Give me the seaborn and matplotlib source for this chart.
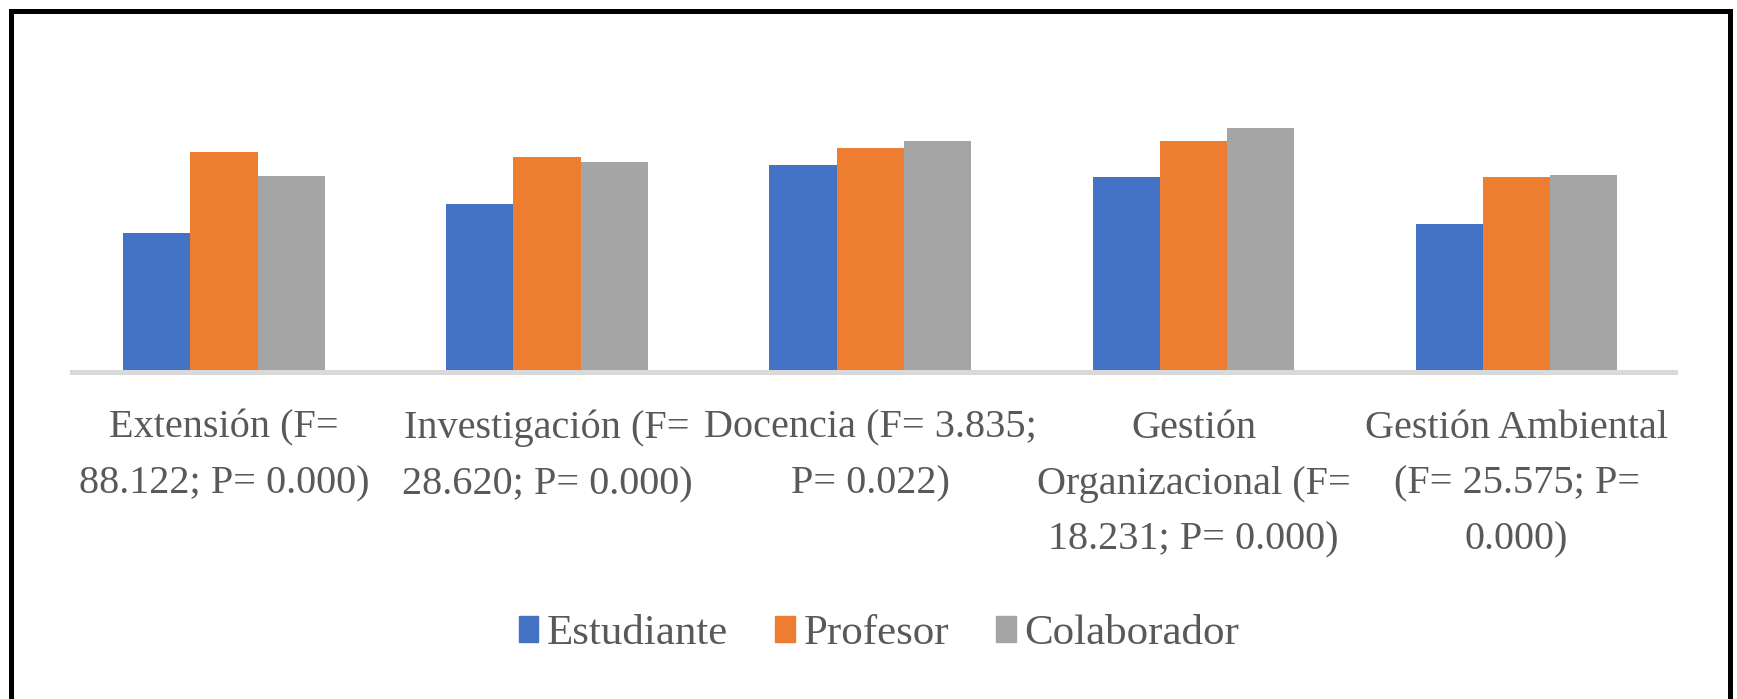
import numpy as np
import pandas as pd
import matplotlib
matplotlib.use("Agg")
import matplotlib.pyplot as plt
from matplotlib.patches import Rectangle
import seaborn as sns

# Data (bar heights, no visible value axis)
categories = [
    "Extensión (F=\n88.122; P= 0.000)",
    "Investigación (F=\n28.620; P= 0.000)",
    "Docencia (F= 3.835;\nP= 0.022)",
    "Gestión\nOrganizacional (F=\n18.231; P= 0.000)",
    "Gestión Ambiental\n(F= 25.575; P=\n0.000)",
]
groups = ["Estudiante", "Profesor", "Colaborador"]
estudiante = [2.32, 2.80, 3.45, 3.25, 2.47]
profesor = [3.67, 3.58, 3.73, 3.85, 3.25]
colaborador = [3.27, 3.50, 3.85, 4.07, 3.28]

colors = ["#4472C4", "#ED7D31", "#A5A5A5"]
text_color = "#595959"

df = pd.DataFrame({
    "categoria": categories * 3,
    "grupo": np.repeat(groups, len(categories)),
    "valor": estudiante + profesor + colaborador,
})

sns.set_theme(style="white")
plt.rcParams["font.family"] = ["Liberation Serif", "DejaVu Serif"]

W, H = 1737, 699
fig = plt.figure(figsize=(W / 100, H / 100), dpi=100)
ax = fig.add_axes([72 / W, 1 - 372 / H, (1675 - 72) / W, 300 / H])

sns.barplot(data=df, x="categoria", y="valor", hue="grupo", order=categories,
            hue_order=groups, palette=colors, width=0.624, gap=0,
            linewidth=0, saturation=1, ax=ax)

ax.set_ylim(0, 5)
ax.set_xlim(-0.47, len(categories) - 0.51)
ax.set_xlabel("")
ax.set_ylabel("")
ax.set_yticks([])
for side in ["top", "right", "left"]:
    ax.spines[side].set_visible(False)
ax.spines["bottom"].set_color("#D9D9D9")
ax.spines["bottom"].set_linewidth(3.6)
ax.tick_params(axis="x", length=0, pad=27)
ax.set_xticks(range(len(categories)))
ax.set_xticklabels(categories, fontsize=29, color=text_color,
                   linespacing=1.68, va="top")

ax.get_legend().remove()
handles = [Rectangle((0, 0), 1, 1, color=c) for c in colors]
fig.legend(handles, groups, loc="center", bbox_to_anchor=(0.506, 1 - 634 / H),
           ncol=3, frameon=False, fontsize=31, handlelength=0.45,
           handleheight=0.55, handletextpad=0.2, columnspacing=1.1,
           labelcolor=text_color)

# thick black frame around the chart, cut off at the bottom
fig.patches.append(Rectangle((11 / W, -0.05), (1730 - 11) / W, 1.05 - 11 / H,
                             transform=fig.transFigure, fill=False,
                             edgecolor="black", linewidth=3.6))

fig.savefig("out.png", dpi=100)
